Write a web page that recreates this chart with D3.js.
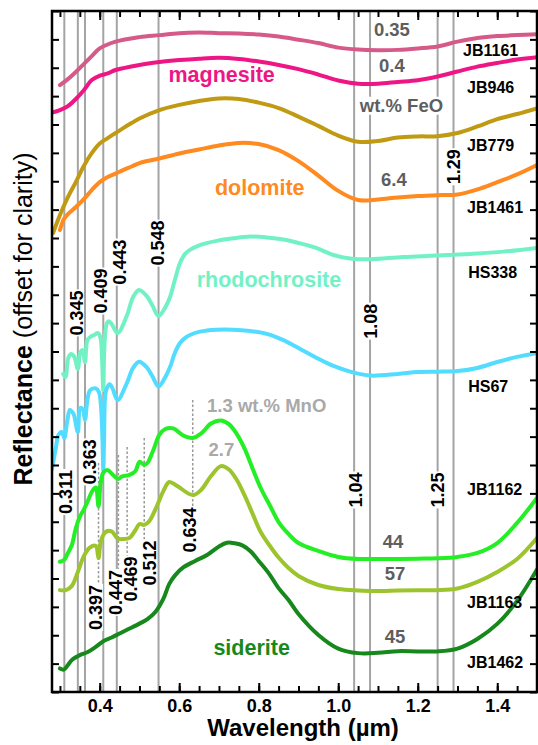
<!DOCTYPE html>
<html>
<head>
<meta charset="utf-8">
<script src="https://cdn.jsdelivr.net/npm/d3@7"></script>
<style>
  html, body { margin: 0; padding: 0; background: #fff; }
  svg { display: block; font-family: "Liberation Sans", Arial, Helvetica, sans-serif; }
</style>
</head>
<body>
<svg id="chart" width="538" height="745"></svg>
<script>
// ---------------------------------------------------------------------------
// Reflectance spectra of carbonates (offset for clarity), wavelength in µm
// ---------------------------------------------------------------------------

// magnesite, 0.35 wt.% FeO
const jb1161Wl = [0.30,0.32,0.34,0.36,0.38,0.40,0.44,0.50,0.55,0.60,0.65,0.70,0.75,0.80,0.85,0.90,0.95,1.00,1.05,1.10,1.15,1.20,1.25,1.30,1.35,1.40,1.45,1.50];
const jb1161R  = [2.139,2.160,2.185,2.213,2.241,2.268,2.292,2.308,2.315,2.322,2.324,2.322,2.321,2.317,2.310,2.299,2.287,2.271,2.264,2.262,2.263,2.268,2.275,2.292,2.305,2.312,2.315,2.318];

// magnesite, 0.4 wt.% FeO
const jb946Wl = [0.28,0.30,0.32,0.34,0.36,0.38,0.40,0.42,0.44,0.50,0.55,0.60,0.65,0.70,0.75,0.80,0.85,0.90,0.95,1.00,1.05,1.10,1.15,1.20,1.25,1.30,1.35,1.40,1.45,1.50];
const jb946R  = [2.042,2.051,2.065,2.090,2.121,2.157,2.172,2.180,2.192,2.210,2.220,2.227,2.232,2.235,2.231,2.222,2.210,2.195,2.176,2.155,2.144,2.144,2.150,2.156,2.169,2.187,2.204,2.217,2.229,2.237];

// dolomite
const jb779Wl = [0.283,0.30,0.32,0.34,0.36,0.38,0.40,0.42,0.44,0.46,0.48,0.50,0.55,0.60,0.65,0.70,0.75,0.80,0.85,0.90,0.95,1.00,1.05,1.10,1.15,1.20,1.25,1.30,1.35,1.40,1.45,1.50];
const jb779R  = [1.618,1.681,1.744,1.797,1.854,1.899,1.933,1.952,1.970,1.988,2.005,2.021,2.051,2.069,2.083,2.092,2.090,2.077,2.058,2.028,1.995,1.961,1.939,1.942,1.954,1.958,1.959,1.970,1.993,2.019,2.037,2.057];

// dolomite, 6.4 wt.% FeO
const jb1461Wl = [0.30,0.31,0.32,0.34,0.36,0.38,0.40,0.42,0.44,0.46,0.48,0.50,0.55,0.60,0.65,0.70,0.75,0.80,0.85,0.90,0.95,1.00,1.05,1.10,1.15,1.20,1.25,1.30,1.35,1.40,1.45,1.50];
const jb1461R  = [1.628,1.667,1.684,1.709,1.737,1.769,1.797,1.815,1.827,1.840,1.852,1.864,1.880,1.898,1.912,1.926,1.935,1.931,1.910,1.871,1.820,1.766,1.734,1.736,1.743,1.748,1.751,1.753,1.771,1.797,1.824,1.857];

// rhodochrosite
const hs338Wl = [0.308,0.314,0.321,0.328,0.336,0.345,0.351,0.357,0.363,0.369,0.376,0.386,0.396,0.402,0.406,0.409,0.412,0.418,0.423,0.430,0.445,0.468,0.484,0.499,0.518,0.532,0.548,0.564,0.577,0.589,0.602,0.615,0.627,0.652,0.694,0.736,0.778,0.82,0.862,0.904,0.946,0.988,1.03,1.08,1.163,1.249,1.332,1.415,1.50];
const hs338R  = [1.121,1.110,1.177,1.191,1.181,1.138,1.195,1.205,1.163,1.240,1.251,1.258,1.265,1.248,1.170,1.064,1.223,1.300,1.307,1.297,1.265,1.325,1.392,1.417,1.396,1.364,1.325,1.353,1.392,1.452,1.512,1.544,1.558,1.575,1.590,1.599,1.605,1.602,1.595,1.581,1.564,1.540,1.528,1.525,1.533,1.538,1.544,1.552,1.565];

// rhodochrosite
const hs67Wl = [0.28,0.29,0.295,0.30,0.305,0.311,0.318,0.325,0.333,0.336,0.345,0.351,0.357,0.363,0.369,0.376,0.39,0.398,0.403,0.407,0.409,0.411,0.414,0.418,0.425,0.432,0.445,0.468,0.484,0.499,0.518,0.532,0.548,0.564,0.577,0.589,0.602,0.615,0.627,0.652,0.694,0.736,0.778,0.82,0.862,0.904,0.946,0.988,1.03,1.08,1.15,1.20,1.25,1.30,1.35,1.40,1.45,1.50];
const hs67R  = [0.786,0.863,0.902,0.913,0.916,0.895,0.951,0.994,0.983,0.973,0.916,1.001,0.997,0.959,1.029,1.064,1.070,1.057,1.011,0.888,0.782,0.888,1.047,1.071,1.085,1.071,1.029,1.088,1.142,1.164,1.145,1.114,1.077,1.107,1.145,1.195,1.230,1.248,1.258,1.270,1.277,1.277,1.272,1.262,1.240,1.209,1.177,1.149,1.129,1.115,1.121,1.128,1.129,1.131,1.142,1.163,1.181,1.195];

// siderite, 1.3 wt.% MnO, 44 wt.% FeO
const jb1162Wl = [0.30,0.31,0.32,0.33,0.34,0.35,0.36,0.37,0.38,0.39,0.397,0.403,0.41,0.42,0.435,0.447,0.455,0.475,0.49,0.50,0.512,0.52,0.535,0.55,0.565,0.585,0.61,0.634,0.655,0.68,0.705,0.725,0.745,0.765,0.785,0.805,0.83,0.85,0.875,0.90,0.95,1.00,1.05,1.10,1.15,1.20,1.25,1.30,1.35,1.40,1.45,1.50];
const jb1162R  = [0.459,0.465,0.490,0.518,0.578,0.617,0.643,0.673,0.705,0.722,0.655,0.744,0.775,0.782,0.763,0.751,0.759,0.765,0.779,0.811,0.800,0.807,0.853,0.906,0.927,0.929,0.904,0.895,0.911,0.946,0.957,0.944,0.909,0.856,0.786,0.719,0.652,0.599,0.557,0.525,0.497,0.476,0.469,0.469,0.469,0.470,0.471,0.476,0.490,0.525,0.596,0.684];

// siderite, 2.7 wt.% MnO, 57 wt.% FeO
const jb1163Wl = [0.30,0.315,0.33,0.345,0.36,0.375,0.39,0.397,0.403,0.415,0.43,0.445,0.46,0.475,0.49,0.50,0.512,0.525,0.545,0.56,0.575,0.595,0.634,0.655,0.68,0.705,0.725,0.745,0.765,0.785,0.805,0.83,0.85,0.875,0.90,0.95,1.00,1.05,1.10,1.15,1.20,1.25,1.30,1.35,1.40,1.45,1.50];
const jb1163R  = [0.359,0.359,0.374,0.423,0.479,0.509,0.515,0.472,0.532,0.564,0.566,0.541,0.539,0.543,0.571,0.592,0.589,0.603,0.659,0.708,0.740,0.726,0.694,0.712,0.761,0.796,0.784,0.747,0.691,0.627,0.564,0.511,0.474,0.437,0.409,0.377,0.363,0.358,0.356,0.358,0.359,0.359,0.365,0.388,0.423,0.469,0.543];

// siderite, 45 wt.% FeO
const jb1462Wl = [0.30,0.31,0.32,0.33,0.35,0.37,0.39,0.41,0.43,0.45,0.47,0.50,0.52,0.54,0.56,0.575,0.59,0.61,0.64,0.67,0.70,0.72,0.74,0.76,0.78,0.80,0.825,0.85,0.875,0.90,0.95,1.00,1.05,1.10,1.15,1.20,1.25,1.30,1.35,1.40,1.45,1.50];
const jb1462R  = [0.083,0.079,0.095,0.113,0.130,0.141,0.159,0.180,0.192,0.206,0.220,0.241,0.257,0.282,0.328,0.381,0.412,0.439,0.462,0.483,0.513,0.526,0.524,0.516,0.495,0.462,0.419,0.366,0.324,0.275,0.201,0.153,0.137,0.138,0.144,0.143,0.143,0.153,0.187,0.240,0.321,0.432];

// absorption band centres (µm): Fe2+ / Mn2+ bands (solid) and Mn2+ bands in siderite (dotted)
const bandCentres = [0.311, 0.345, 0.363, 0.409, 0.443, 0.548, 1.04, 1.08, 1.25, 1.29];
const mnBandCentres = [0.397, 0.447, 0.469, 0.512, 0.634];

// x tick labels (µm)
const xTickLabels = [0.4, 0.6, 0.8, 1.0, 1.2, 1.4];

// ---------------------------------------------------------------------------
// Layout and styling
// ---------------------------------------------------------------------------
const series = [
  { id: "JB1161", color: "#d65a88", wl: jb1161Wl, r: jb1161R },
  { id: "JB946",  color: "#ee1585", wl: jb946Wl,  r: jb946R  },
  { id: "JB779",  color: "#bf9a12", wl: jb779Wl,  r: jb779R  },
  { id: "JB1461", color: "#ff8a1f", wl: jb1461Wl, r: jb1461R },
  { id: "HS338",  color: "#72f2c4", wl: hs338Wl,  r: hs338R  },
  { id: "HS67",   color: "#52dcff", wl: hs67Wl,   r: hs67R   },
  { id: "JB1162", color: "#24ee24", wl: jb1162Wl, r: jb1162R },
  { id: "JB1163", color: "#9cc42c", wl: jb1163Wl, r: jb1163R },
  { id: "JB1462", color: "#17881b", wl: jb1462Wl, r: jb1462R }
];

// sample-id label anchors: [x in µm, baseline in reflectance units]
const idLabelAt = {
  JB1161: [1.314, 2.241], JB946: [1.324, 2.110], JB779: [1.324, 1.908],
  JB1461: [1.324, 1.687], HS338: [1.327, 1.458], HS67: [1.327, 1.058],
  JB1162: [1.324, 0.694], JB1163: [1.324, 0.296], JB1462: [1.324, 0.085]
};

// rotated band-label centres: [reflectance position, pixel nudge]
const bandLabelAt = {
  0.311: [0.705, 1], 0.345: [1.336, -1.5], 0.363: [0.811, 5], 0.409: [1.413, -3],
  0.443: [1.515, 3], 0.548: [1.582, -1], 1.04: [0.712, 1], 1.08: [1.307, 0],
  1.25: [0.712, 0], 1.29: [1.851, 0]
};
const mnLabelAt = {
  0.397: [0.298, -3], 0.447: [0.351, -3], 0.469: [0.398, 3], 0.512: [0.455, 5], 0.634: [0.571, -3]
};
const mnLineTop = { 0.397: 0.807, 0.447: 0.835, 0.469: 0.863, 0.512: 0.895, 0.634: 1.029 };

const W = 538, H = 745;
const plot = { left: 52, right: 537, top: 11, bottom: 692 };

const x = d3.scaleLinear().domain([0.28, 1.5]).range([plot.left, plot.right]);
const y = d3.scaleLinear().domain([0, 2.4]).range([plot.bottom, plot.top]);

const svg = d3.select("#chart");
svg.append("defs").append("clipPath").attr("id", "plot-clip")
  .append("rect")
  .attr("x", plot.left).attr("y", plot.top)
  .attr("width", plot.right - plot.left).attr("height", plot.bottom - plot.top);

// --- band-centre guide lines ---
const gGuides = svg.append("g");
gGuides.selectAll("line.band")
  .data(bandCentres)
  .join("line")
  .attr("class", "band")
  .attr("x1", d => x(d)).attr("x2", d => x(d))
  .attr("y1", y(2.4)).attr("y2", y(0))
  .attr("stroke", "#a4a4a4").attr("stroke-width", 2);

gGuides.selectAll("line.mn")
  .data(mnBandCentres)
  .join("line")
  .attr("class", "mn")
  .attr("x1", d => x(d)).attr("x2", d => x(d))
  .attr("y1", d => y(mnLineTop[d])).attr("y2", d => y(mnLabelAt[d][0]))
  .attr("stroke", "#999").attr("stroke-width", 1.5)
  .attr("stroke-dasharray", "2.5,2");

// --- spectra ---
const line = d3.line()
  .x(d => x(d[0]))
  .y(d => y(d[1]))
  .curve(d3.curveCatmullRom.alpha(0.5));

svg.append("g").attr("clip-path", "url(#plot-clip)")
  .selectAll("path")
  .data(series)
  .join("path")
  .attr("d", s => line(d3.zip(s.wl, s.r)))
  .attr("fill", "none")
  .attr("stroke", s => s.color)
  .attr("stroke-width", 4)
  .attr("stroke-linejoin", "round")
  .attr("stroke-linecap", "round");

// --- rotated band labels on white ---
function rotatedLabel(wl, at, dx) {
  const g = svg.append("g")
    .attr("transform", `translate(${x(wl) + dx},${y(at)}) rotate(-90)`);
  const fs = 18;
  const t = g.append("text")
    .attr("text-anchor", "middle")
    .attr("dy", "0.36em")
    .attr("font-size", fs)
    .attr("font-weight", "bold")
    .attr("fill", "#000")
    .text(String(wl));
  const bb = t.node().getBBox();
  g.insert("rect", "text")
    .attr("x", bb.x - 1).attr("y", -0.42 * fs)
    .attr("width", bb.width + 2).attr("height", 0.84 * fs)
    .attr("fill", "#fff");
}
bandCentres.forEach(b => rotatedLabel(b, bandLabelAt[b][0], bandLabelAt[b][1]));
mnBandCentres.forEach(b => rotatedLabel(b, mnLabelAt[b][0], mnLabelAt[b][1]));

// --- horizontal annotations ---
function note(text, wl, at, opts) {
  const t = svg.append("text")
    .attr("x", x(wl)).attr("y", y(at))
    .attr("text-anchor", opts.anchor || "middle")
    .attr("font-size", opts.size)
    .attr("font-weight", "bold")
    .attr("fill", opts.color)
    .text(text);
  if (opts.knockout) {
    const bb = t.node().getBBox();
    svg.insert("rect", () => t.node())
      .attr("x", bb.x - 1).attr("y", bb.y + 2)
      .attr("width", bb.width + 2).attr("height", bb.height - 3)
      .attr("fill", "#fff");
  }
  return t;
}

const darkGrey = "#5e5e5e", lightGrey = "#a9a9a9";
note("0.35", 1.135, 2.313, { size: 18.5, color: darkGrey, knockout: true });
note("0.4", 1.135, 2.186, { size: 18.5, color: darkGrey, knockout: true });
note("wt.% FeO", 1.159, 2.045, { size: 18.5, color: darkGrey, knockout: true });
note("6.4", 1.140, 1.784, { size: 18.5, color: darkGrey, knockout: true });
note("44", 1.138, 0.506, { size: 18.5, color: darkGrey, knockout: true });
note("57", 1.143, 0.395, { size: 18.5, color: darkGrey, knockout: true });
note("45", 1.143, 0.173, { size: 18.5, color: darkGrey, knockout: true });
note("1.3 wt.% MnO", 0.670, 0.988, { size: 18.5, color: lightGrey, anchor: "start", knockout: true });
note("2.7", 0.706, 0.830, { size: 18.5, color: lightGrey, knockout: true });

// mineral names
note("magnesite", 0.573, 2.150, { size: 21.5, color: "#ee1585", anchor: "start" });
note("dolomite", 0.690, 1.751, { size: 21.5, color: "#ff8a1f", anchor: "start" });
note("rhodochrosite", 0.644, 1.428, { size: 21.5, color: "#72f2c4", anchor: "start" });
note("siderite", 0.686, 0.130, { size: 21.5, color: "#17881b", anchor: "start" });

// sample ids
series.forEach(s => {
  const [wl, at] = idLabelAt[s.id];
  note(s.id, wl, at, { size: 16, color: "#000", anchor: "start" });
});

// --- axes: ticks point into the frame on all four sides ---
const minorX = d3.range(0.30, 1.4501, 0.05).map(v => +v.toFixed(2));
function styleAxis(g) {
  g.select(".domain").remove();
  g.selectAll(".tick line").attr("stroke", "#000").attr("stroke-width", 2);
  g.attr("font-family", null);
}
svg.append("g").attr("transform", `translate(0,${plot.bottom})`)
  .call(d3.axisBottom(x).tickValues(minorX).tickSizeInner(-6).tickSizeOuter(0).tickFormat(""))
  .call(styleAxis);
svg.append("g").attr("transform", `translate(0,${plot.top})`)
  .call(d3.axisTop(x).tickValues(minorX).tickSizeInner(-6).tickSizeOuter(0).tickFormat(""))
  .call(styleAxis);
const xMajor = svg.append("g").attr("transform", `translate(0,${plot.bottom})`)
  .call(d3.axisBottom(x).tickValues(xTickLabels).tickSizeInner(-9).tickSizeOuter(0)
    .tickPadding(7).tickFormat(d3.format(".1f")))
  .call(styleAxis);
xMajor.attr("font-size", 18).attr("font-weight", "bold");
xMajor.selectAll("text").attr("fill", "#000");
svg.append("g").attr("transform", `translate(0,${plot.top})`)
  .call(d3.axisTop(x).tickValues(xTickLabels).tickSizeInner(-9).tickSizeOuter(0).tickFormat(""))
  .call(styleAxis);

const yTicks = d3.range(0, 2.4001, 0.1).map(v => +v.toFixed(1));
svg.append("g").attr("transform", `translate(${plot.left},0)`)
  .call(d3.axisLeft(y).tickValues(yTicks).tickSizeInner(-7).tickSizeOuter(0).tickFormat(""))
  .call(styleAxis);
svg.append("g").attr("transform", `translate(${plot.right},0)`)
  .call(d3.axisRight(y).tickValues(yTicks).tickSizeInner(-7).tickSizeOuter(0).tickFormat(""))
  .call(styleAxis);

// frame
svg.append("rect")
  .attr("x", plot.left).attr("y", plot.top)
  .attr("width", plot.right - plot.left).attr("height", plot.bottom - plot.top)
  .attr("fill", "none").attr("stroke", "#000").attr("stroke-width", 2.5);

// --- axis titles ---
svg.append("text")
  .attr("x", 303).attr("y", 736)
  .attr("text-anchor", "middle")
  .attr("font-size", 24).attr("font-weight", "bold")
  .text("Wavelength (µm)");

const yTitle = svg.append("text")
  .attr("transform", "translate(32,319) rotate(-90)")
  .attr("text-anchor", "middle")
  .attr("font-size", 25);
yTitle.append("tspan").attr("font-weight", "bold").text("Reflectance");
yTitle.append("tspan").text(" (offset for clarity)");
</script>
</body>
</html>
